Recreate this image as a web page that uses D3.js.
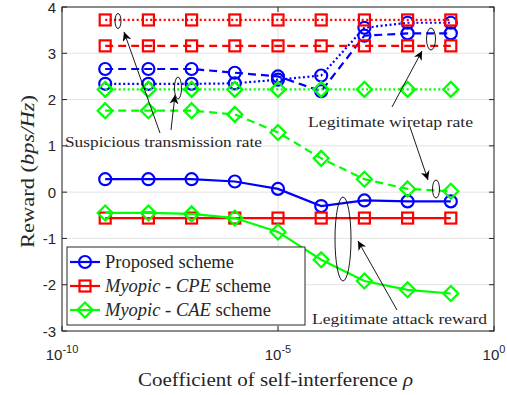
<!DOCTYPE html>
<html>
<head>
<meta charset="utf-8">
<script src="https://cdn.jsdelivr.net/npm/d3@7/dist/d3.min.js"></script>
<style>
  html, body { margin: 0; padding: 0; background: #fff; }
  svg { display: block; }
  .serif { font-family: "Liberation Serif", "Times New Roman", serif; fill: #262626; }
  .tick-label { font-family: "Liberation Sans", Arial, sans-serif; font-size: 15px; fill: #262626; }
</style>
</head>
<body>
<div id="chart"></div>
<script>
// --- data ---
const rho = [1e-9, 1e-8, 1e-7, 1e-6, 1e-5, 1e-4, 1e-3, 1e-2, 1e-1];
const xTicks = [1e-10, 1e-5, 1];
const xTickExp = ["-10", "-5", "0"];
const yTicks = [-3, -2, -1, 0, 1, 2, 3, 4];

// Proposed scheme (blue)
const propAttack = [0.28, 0.28, 0.28, 0.23, 0.07, -0.30, -0.18, -0.20, -0.20];
const propWiretap = [2.66, 2.66, 2.66, 2.58, 2.50, 2.18, 3.38, 3.43, 3.43];
const propSuspicious = [2.34, 2.34, 2.34, 2.35, 2.43, 2.52, 3.55, 3.66, 3.66];
// Myopic - CPE scheme (red)
const cpeAttack = [-0.56, -0.56, -0.56, -0.56, -0.56, -0.56, -0.56, -0.56, -0.56];
const cpeWiretap = [3.16, 3.16, 3.16, 3.16, 3.16, 3.16, 3.16, 3.16, 3.16];
const cpeSuspicious = [3.72, 3.72, 3.72, 3.72, 3.72, 3.72, 3.72, 3.72, 3.72];
// Myopic - CAE scheme (green)
const caeAttack = [-0.45, -0.45, -0.47, -0.56, -0.86, -1.46, -1.92, -2.11, -2.19];
const caeWiretap = [1.76, 1.76, 1.76, 1.68, 1.29, 0.73, 0.28, 0.07, 0.02];
const caeSuspicious = [2.22, 2.22, 2.22, 2.22, 2.22, 2.22, 2.22, 2.22, 2.22];

const W = 507, H = 395;
const m = { l: 62, r: 13, t: 7, b: 64 };
const x = d3.scaleLog().domain([1e-10, 1]).range([m.l, W - m.r]);
const y = d3.scaleLinear().domain([-3, 4]).range([H - m.b, m.t]);

const svg = d3.select("#chart").append("svg").attr("width", W).attr("height", H);

// grid
const grid = svg.append("g").attr("stroke", "#e3e3e3").attr("stroke-width", 1);
yTicks.forEach(v => grid.append("line").attr("x1", x.range()[0]).attr("x2", x.range()[1])
  .attr("y1", y(v)).attr("y2", y(v)));
xTicks.forEach(v => grid.append("line").attr("x1", x(v)).attr("x2", x(v))
  .attr("y1", y.range()[0]).attr("y2", y.range()[1]));

// series
const BLUE = "#0000ff", RED = "#ff0000", GREEN = "#00ff00";
const DOT = "2,2.5", DASH = "8,5";
const series = [
  { v: propSuspicious, c: BLUE, d: DOT, mk: "o" },
  { v: propWiretap, c: BLUE, d: DASH, mk: "o" },
  { v: propAttack, c: BLUE, d: null, mk: "o" },
  { v: cpeSuspicious, c: RED, d: DOT, mk: "s" },
  { v: cpeWiretap, c: RED, d: DASH, mk: "s" },
  { v: cpeAttack, c: RED, d: null, mk: "s" },
  { v: caeSuspicious, c: GREEN, d: DOT, mk: "d" },
  { v: caeWiretap, c: GREEN, d: DASH, mk: "d" },
  { v: caeAttack, c: GREEN, d: null, mk: "d" },
];

function marker(g, mk, cx, cy) {
  if (mk === "o") g.append("circle").attr("cx", cx).attr("cy", cy).attr("r", 6);
  else if (mk === "s") g.append("rect").attr("x", cx - 5.5).attr("y", cy - 5.5).attr("width", 11).attr("height", 11);
  else g.append("path").attr("d", `M${cx},${cy - 7.5}L${cx + 7.5},${cy}L${cx},${cy + 7.5}L${cx - 7.5},${cy}Z`);
}

const line = d3.line().x((d, i) => x(rho[i])).y(d => y(d));
const plot = svg.append("g");
series.forEach(s => {
  plot.append("path").attr("d", line(s.v)).attr("fill", "none")
    .attr("stroke", s.c).attr("stroke-width", 2.2)
    .attr("stroke-dasharray", s.d);
  const mg = plot.append("g").attr("fill", "none").attr("stroke", s.c).attr("stroke-width", 2.2);
  s.v.forEach((v, i) => marker(mg, s.mk, x(rho[i]), y(v)));
});

// axes box with inward ticks
const ax = svg.append("g").attr("stroke", "#262626").attr("stroke-width", 1).attr("fill", "none");
ax.append("rect").attr("x", x.range()[0]).attr("y", y.range()[1])
  .attr("width", x.range()[1] - x.range()[0]).attr("height", y.range()[0] - y.range()[1]);
yTicks.forEach(v => {
  ax.append("line").attr("x1", x.range()[0]).attr("x2", x.range()[0] + 5).attr("y1", y(v)).attr("y2", y(v));
  ax.append("line").attr("x1", x.range()[1]).attr("x2", x.range()[1] - 5).attr("y1", y(v)).attr("y2", y(v));
});
xTicks.forEach(v => {
  ax.append("line").attr("x1", x(v)).attr("x2", x(v)).attr("y1", y.range()[0]).attr("y2", y.range()[0] - 5);
  ax.append("line").attr("x1", x(v)).attr("x2", x(v)).attr("y1", y.range()[1]).attr("y2", y.range()[1] + 5);
});

// tick labels
yTicks.forEach(v => svg.append("text").attr("class", "tick-label")
  .attr("x", x.range()[0] - 6).attr("y", y(v) + 5.5).attr("text-anchor", "end").text(v));
xTicks.forEach((v, i) => {
  const t = svg.append("text").attr("class", "tick-label").attr("x", x(v)).attr("y", 360)
    .attr("text-anchor", "middle");
  t.append("tspan").text("10");
  t.append("tspan").attr("dy", -7).attr("font-size", 11).text(xTickExp[i]);
});

// axis titles
const xl = svg.append("text").attr("class", "serif").attr("font-size", 18)
  .attr("x", 138).attr("y", 386).attr("textLength", 275).attr("lengthAdjust", "spacingAndGlyphs");
xl.append("tspan").text("Coefficient of self-interference ");
xl.append("tspan").attr("font-style", "italic").text("ρ");

const yl = svg.append("text").attr("class", "serif").attr("font-size", 18)
  .attr("transform", "translate(34,248) rotate(-90)")
  .attr("textLength", 153).attr("lengthAdjust", "spacingAndGlyphs");
yl.append("tspan").text("Reward (");
yl.append("tspan").attr("font-style", "italic").text("bps/Hz");
yl.append("tspan").text(")");

// annotations
svg.append("defs").append("marker").attr("id", "arr").attr("viewBox", "0 0 10 10")
  .attr("refX", 10).attr("refY", 5).attr("markerWidth", 9).attr("markerHeight", 9)
  .attr("orient", "auto-start-reverse").attr("markerUnits", "userSpaceOnUse")
  .append("path").attr("d", "M0,0L10,5L0,10L3,5Z").attr("fill", "#000");

const ann = svg.append("g").attr("stroke", "#000").attr("stroke-width", 0.9).attr("fill", "none");
const ellipses = [
  [118, 21, 3, 7.5], [178, 88, 3.5, 11], [431, 39, 4.5, 11], [436, 189, 3.5, 9], [343, 239, 8, 42]
];
ellipses.forEach(e => ann.append("ellipse").attr("cx", e[0]).attr("cy", e[1]).attr("rx", e[2]).attr("ry", e[3]));
const arrows = [
  [160, 133, 124, 32], [171, 130, 175, 95], [392, 107, 422, 51], [410, 127, 428, 180], [397, 310, 358, 241]
];
arrows.forEach(a => ann.append("line").attr("x1", a[0]).attr("y1", a[1]).attr("x2", a[2]).attr("y2", a[3])
  .attr("marker-end", "url(#arr)"));

const labels = [
  ["Suspicious transmission rate", 65, 147, 197],
  ["Legitimate wiretap rate", 308, 127, 165],
  ["Legitimate attack reward", 312, 324, 175],
];
labels.forEach(l => svg.append("text").attr("class", "serif").attr("font-size", 15.5)
  .attr("x", l[1]).attr("y", l[2]).attr("textLength", l[3]).attr("lengthAdjust", "spacingAndGlyphs")
  .text(l[0]));

// legend
const lg = svg.append("g");
lg.append("rect").attr("x", 67).attr("y", 247).attr("width", 238).attr("height", 78)
  .attr("fill", "#fff").attr("stroke", "#262626").attr("stroke-width", 1);
const legendItems = [
  { c: BLUE, mk: "o", parts: [["Proposed scheme", false]] },
  { c: RED, mk: "s", parts: [["Myopic", true], [" - ", false], ["CPE", true], [" scheme", false]] },
  { c: GREEN, mk: "d", parts: [["Myopic", true], [" - ", false], ["CAE", true], [" scheme", false]] },
];
legendItems.forEach((it, i) => {
  const cy = 262 + i * 24;
  lg.append("line").attr("x1", 70).attr("x2", 100).attr("y1", cy).attr("y2", cy)
    .attr("stroke", it.c).attr("stroke-width", 2.2);
  const mg = lg.append("g").attr("fill", "none").attr("stroke", it.c).attr("stroke-width", 2.2);
  marker(mg, it.mk, 85, cy);
  const t = lg.append("text").attr("class", "serif").attr("font-size", 18.5).attr("x", 105).attr("y", cy + 6);
  it.parts.forEach(p => t.append("tspan").attr("font-style", p[1] ? "italic" : null).text(p[0]));
});
</script>
</body>
</html>
